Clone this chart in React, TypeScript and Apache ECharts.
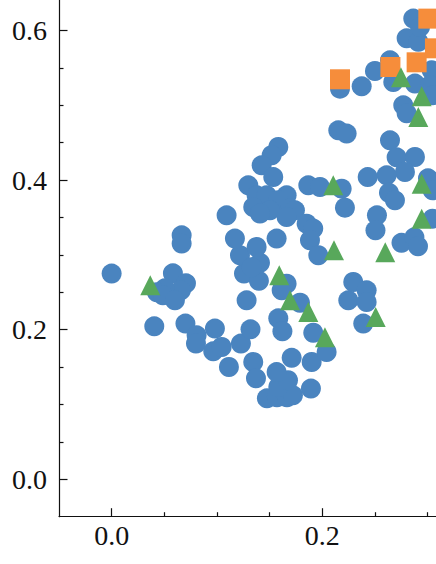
import React, { useEffect, useRef } from "react";
import * as echarts from "echarts";

// Series data: [x, y]
const groupCircles: [number, number][] = [
  [0.0, 0.275], [0.0582, 0.2754], [0.0706, 0.262], [0.0658, 0.2527], [0.0506, 0.2553],
  [0.043, 0.25], [0.0487, 0.246], [0.0601, 0.2393], [0.0405, 0.2045], [0.0701, 0.2082],
  [0.0807, 0.1925], [0.0801, 0.1814], [0.0981, 0.2015], [0.0965, 0.1711], [0.1045, 0.1769],
  [0.1114, 0.1501], [0.1228, 0.1814], [0.1319, 0.2005], [0.1345, 0.1568], [0.1371, 0.135],
  [0.1475, 0.1083], [0.157, 0.1096], [0.1665, 0.1096], [0.1722, 0.1123], [0.1583, 0.1234],
  [0.1675, 0.1324], [0.1567, 0.1434], [0.171, 0.1624], [0.19, 0.1568], [0.1893, 0.1213],
  [0.2042, 0.1702], [0.1915, 0.1959], [0.1583, 0.2152], [0.1622, 0.1979], [0.1662, 0.2616],
  [0.1615, 0.2527], [0.1789, 0.236], [0.1282, 0.2393], [0.1257, 0.275], [0.1399, 0.2654],
  [0.1409, 0.2894], [0.1219, 0.2995], [0.1377, 0.3106], [0.1171, 0.3218], [0.1092, 0.3529],
  [0.0665, 0.3262], [0.0665, 0.3151], [0.133, 0.2834],
  [0.1583, 0.4443], [0.152, 0.4332], [0.1425, 0.4198], [0.1535, 0.4041], [0.1298, 0.393],
  [0.1377, 0.3797], [0.1472, 0.3797], [0.1662, 0.3797], [0.1583, 0.373], [0.1345, 0.364],
  [0.1694, 0.3619], [0.1504, 0.3596], [0.1741, 0.3596], [0.1409, 0.3552], [0.1662, 0.3507],
  [0.1852, 0.3418], [0.1915, 0.3352], [0.1884, 0.3195], [0.1567, 0.3218], [0.1868, 0.393],
  [0.1979, 0.3908], [0.2185, 0.3886], [0.2216, 0.3632], [0.1963, 0.2995], [0.2153, 0.4666],
  [0.2232, 0.4622], [0.2644, 0.4532], [0.2707, 0.4305], [0.2881, 0.4309], [0.2786, 0.4108],
  [0.2612, 0.4064], [0.2432, 0.4041], [0.2634, 0.383], [0.2691, 0.373], [0.3005, 0.4024],
  [0.3049, 0.3864], [0.252, 0.3529], [0.2506, 0.3329], [0.3049, 0.3485], [0.2753, 0.3162],
  [0.2876, 0.3235], [0.291, 0.3115], [0.2248, 0.2393], [0.2295, 0.2638], [0.2422, 0.2527],
  [0.2422, 0.237], [0.239, 0.2082],
  [0.2169, 0.5223], [0.2375, 0.5254], [0.2501, 0.5459], [0.2644, 0.5602], [0.2675, 0.5311],
  [0.2881, 0.529], [0.304, 0.5468], [0.3024, 0.5267], [0.2802, 0.5896], [0.2913, 0.5849],
  [0.2865, 0.6159], [0.2929, 0.6047], [0.277, 0.5], [0.2802, 0.4893], [0.3052, 0.5134],
];

const groupSquares: [number, number][] = [
  [0.2169, 0.5348], [0.2648, 0.5512], [0.2897, 0.5575], [0.3008, 0.6159], [0.3071, 0.5762],
];

const groupTriangles: [number, number][] = [
  [0.0367, 0.2594], [0.1592, 0.2727], [0.1694, 0.2393], [0.1868, 0.2237], [0.2026, 0.1898],
  [0.2508, 0.217], [0.2105, 0.393], [0.2112, 0.3061], [0.2599, 0.3035], [0.2945, 0.3953],
  [0.2945, 0.3485], [0.2748, 0.5374], [0.2945, 0.512], [0.2913, 0.4844],
];

const xMajorTicks = [0, 0.2];
const xMinorTicks = [0.05, 0.1, 0.15, 0.25, 0.3];
const yMajorTicks = [0, 0.2, 0.4, 0.6];
const yMinorTicks = [0.05, 0.1, 0.15, 0.25, 0.3, 0.35, 0.45, 0.5, 0.55];

const X_MIN = -0.05;
const X_MAX = 0.3081;
const Y_MIN = -0.05;
const Y_MAX = 0.6408;

const FONT = "'Liberation Serif', 'DejaVu Serif', serif";

export default function App() {
  const ref = useRef<HTMLDivElement>(null);

  useEffect(() => {
    if (!ref.current) return;
    const chart = echarts.init(ref.current, undefined, { renderer: "svg" });
    const lineColor = "#111";
    const labelStyle = {
      fontFamily: FONT,
      fontSize: 28,
      color: "#111",
      formatter: (v: number) => v.toFixed(1),
    };
    const tickStyle = { color: lineColor, width: 1.2 };
    const tickAxis = (values: number[], len: number, min: number, max: number, pos: string) => ({
      type: "value",
      position: pos,
      min,
      max,
      axisLine: { show: false, onZero: false },
      axisTick: { show: true, inside: true, length: len, customValues: values, lineStyle: tickStyle },
      axisLabel: { show: false },
      splitLine: { show: false },
    });
    chart.setOption({
      animation: false,
      backgroundColor: "#fff",
      grid: { left: 59, right: 0, top: 0, bottom: 47.3, containLabel: false },
      xAxis: [
        {
          type: "value",
          position: "bottom",
          min: X_MIN,
          max: X_MAX,
          axisLine: { show: true, onZero: false, lineStyle: { color: lineColor, width: 1.2 } },
          axisTick: { show: false },
          axisLabel: { ...labelStyle, customValues: xMajorTicks, margin: 5 },
          splitLine: { show: false },
        },
        tickAxis(xMinorTicks, 4.5, X_MIN, X_MAX, "bottom"),
        tickAxis(xMajorTicks, 8.5, X_MIN, X_MAX, "bottom"),
      ],
      yAxis: [
        {
          type: "value",
          position: "left",
          min: Y_MIN,
          max: Y_MAX,
          axisLine: { show: true, onZero: false, lineStyle: { color: lineColor, width: 1.2 } },
          axisTick: { show: false },
          axisLabel: { ...labelStyle, customValues: yMajorTicks, margin: 12 },
          splitLine: { show: false },
        },
        tickAxis(yMinorTicks, 4.5, Y_MIN, Y_MAX, "left"),
        tickAxis(yMajorTicks, 8.5, Y_MIN, Y_MAX, "left"),
      ],
      series: [
        {
          type: "scatter",
          xAxisIndex: 0,
          yAxisIndex: 0,
          symbol: "circle",
          symbolSize: 20,
          clip: false,
          itemStyle: { color: "#4A84BF", opacity: 1 },
          data: groupCircles,
        },
        {
          type: "scatter",
          xAxisIndex: 0,
          yAxisIndex: 0,
          symbol: "rect",
          symbolSize: 20,
          clip: false,
          itemStyle: { color: "#F68D3B", opacity: 1 },
          data: groupSquares,
        },
        {
          type: "scatter",
          xAxisIndex: 0,
          yAxisIndex: 0,
          symbol: "triangle",
          symbolSize: 20,
          clip: false,
          itemStyle: { color: "#58A85B", opacity: 1 },
          data: groupTriangles,
        },
      ],
    });
    return () => chart.dispose();
  }, []);

  return (
    <div
      ref={ref}
      style={{ position: "fixed", left: 0, top: 0, width: 436, height: 564, background: "#fff" }}
    />
  );
}
